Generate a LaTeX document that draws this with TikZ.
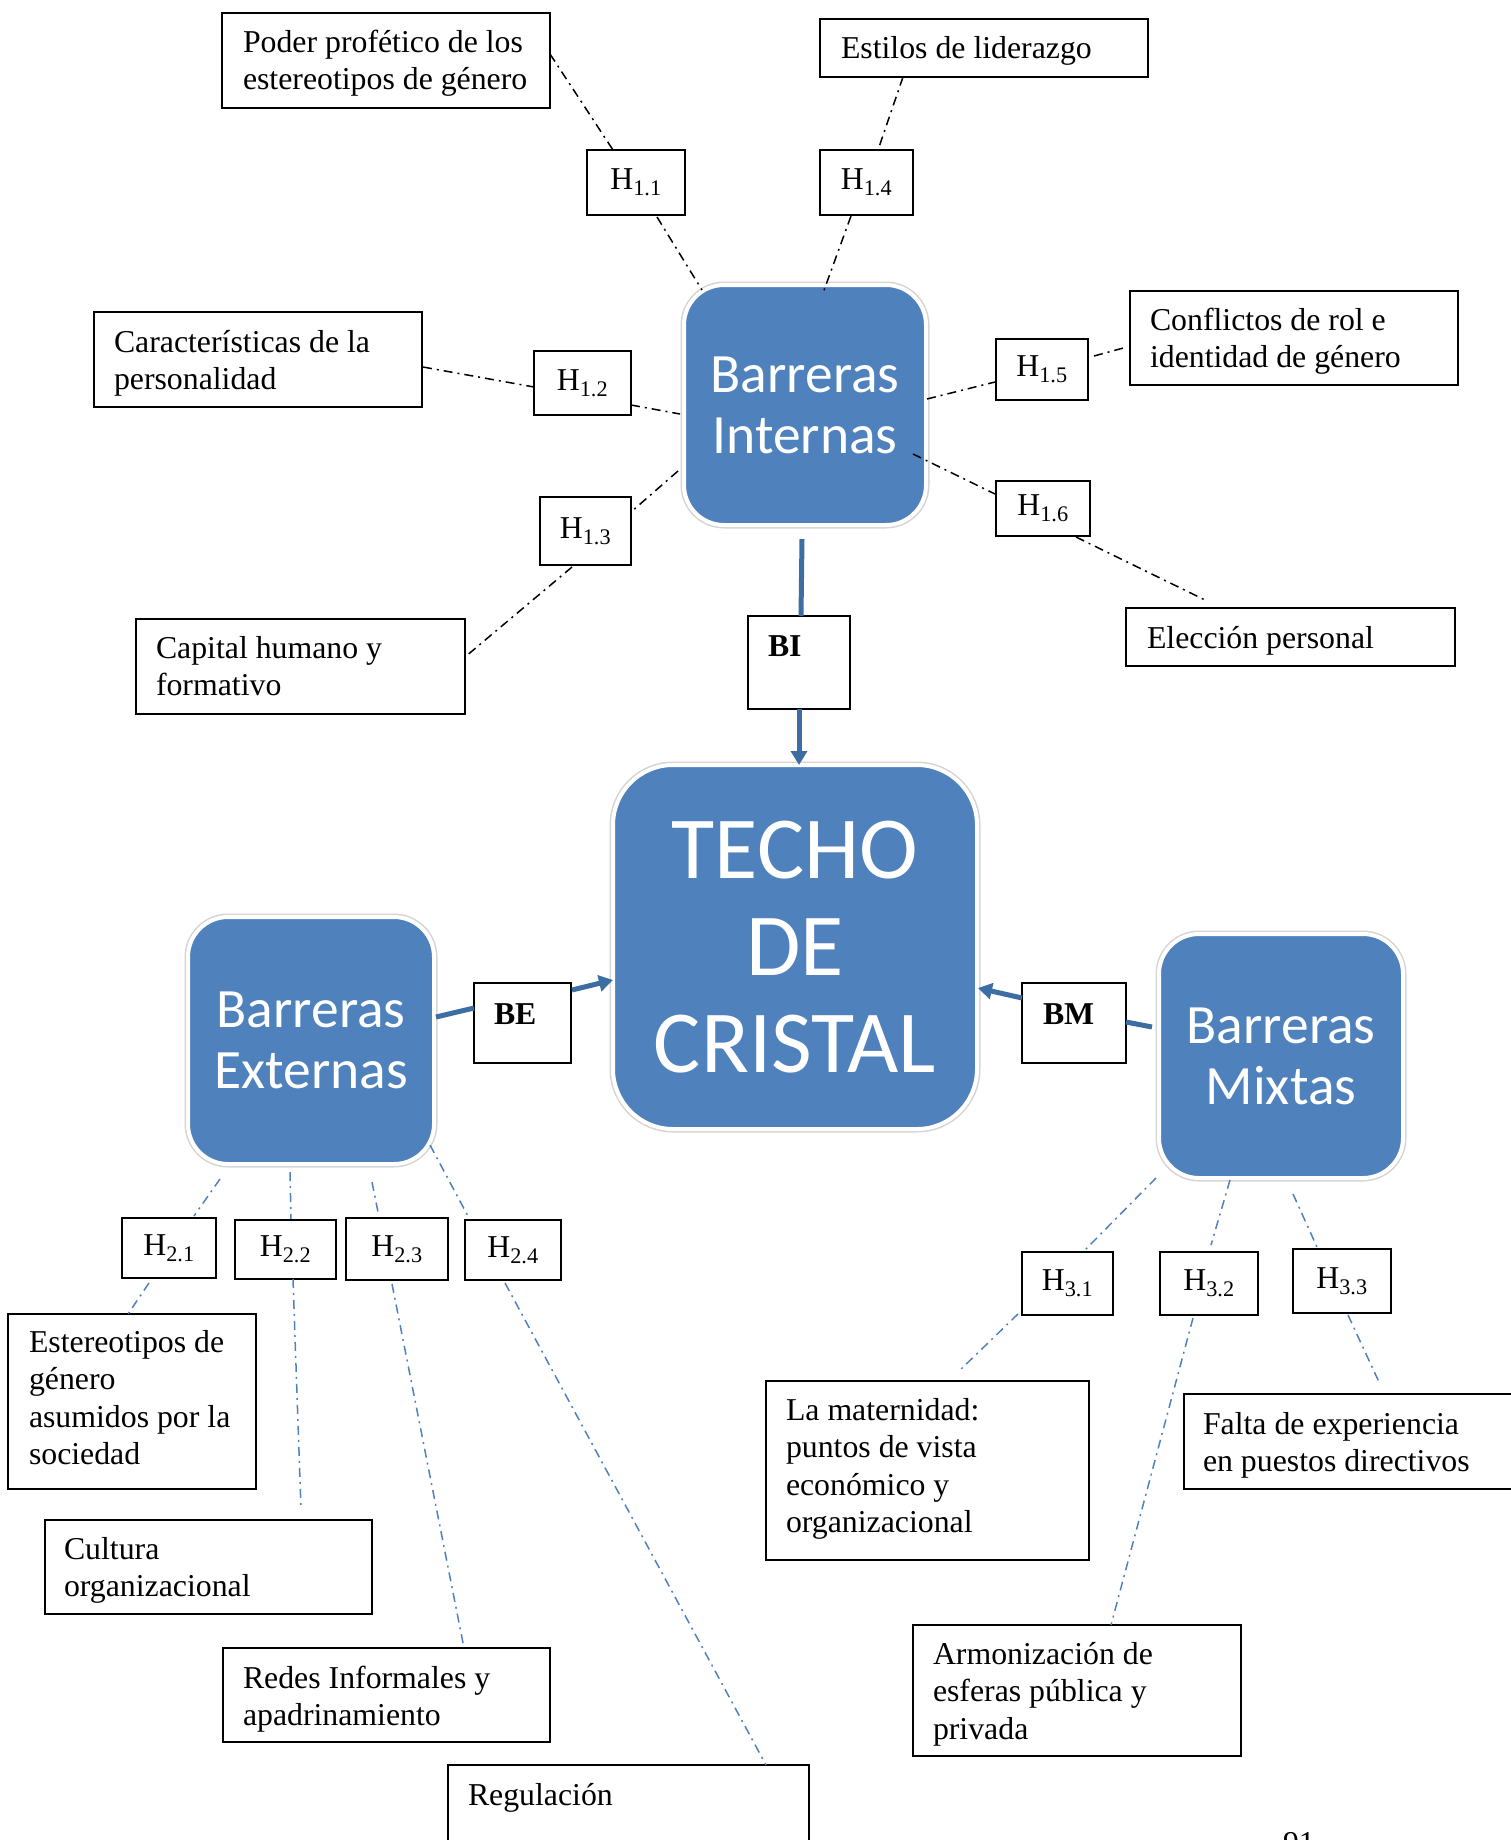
\documentclass[tikz,border=0pt]{standalone}
\usepackage{fontspec}
\setmainfont{Liberation Serif}
\newfontfamily\hubfont{Carlito}
\usetikzlibrary{arrows.meta}
\definecolor{hubblue}{HTML}{4F81BD}
\definecolor{flowblue}{HTML}{3C6DA3}
\definecolor{rimgray}{HTML}{D4D4D4}
\begin{document}
\begin{tikzpicture}[x=1pt,y=-1pt,
  every node/.style={inner sep=0pt,outer sep=0pt},
  hub/.style={anchor=north west,rounded corners=40pt,fill=hubblue,draw=white,line width=4pt,
    preaction={draw=rimgray,line width=7pt},text=white,align=center,
    font=\hubfont\fontsize{55.5}{61}\selectfont},
  frame/.style={anchor=north west,draw=black,line width=2pt},
  hyp/.style={frame,font=\fontsize{31.8}{37.5}\selectfont},
  % multi-line text blocks are placed by the baseline of their last line
  body/.style={anchor=base west,align=left,font=\fontsize{31.8}{37.5}\selectfont},
  tagtext/.style={anchor=base west,font=\fontsize{31.8}{37.5}\selectfont\bfseries},
  inner link/.style={draw=black,line width=1.5pt,dash pattern=on 9pt off 5pt on 2pt off 5pt},
  outer link/.style={draw=hubblue,line width=1.5pt,dash pattern=on 9pt off 5pt on 2pt off 5pt},
  flow/.style={draw=flowblue,line width=5pt},
  flow tip/.style={flow,-{Triangle[length=14pt,width=16pt]}},
]
\useasboundingbox (0,0) rectangle (1511,1840);
\clip (0,0) rectangle (1511,1840);

% ---------- central and group boxes ----------
\node[hub,minimum width=242pt,minimum height=240pt] (bint) at (684,285) {Barreras\\Internas};
\node[hub,rounded corners=60pt,minimum width=364pt,minimum height=364pt,
      font=\hubfont\fontsize{88.5}{97}\selectfont] (techo) at (613,765) {TECHO\\DE\\CRISTAL};
\node[hub,minimum width=246pt,minimum height=247pt] (bext) at (188,917) {Barreras\\Externas};
\node[hub,minimum width=244pt,minimum height=244pt] (bmix) at (1159,934) {Barreras\\Mixtas};

% ---------- group tags ----------
\node[frame,minimum width=102pt,minimum height=93pt] (bi) at (748,616) {};
\node[tagtext] (bi-t) at ([shift={(20,40)}]bi.north west) {BI};
\node[frame,minimum width=97pt,minimum height=80pt] (be) at (474,983) {};
\node[tagtext] (be-t) at ([shift={(20,41)}]be.north west) {BE};
\node[frame,minimum width=104pt,minimum height=80pt] (bm) at (1022,983) {};
\node[tagtext] (bm-t) at ([shift={(21,41)}]bm.north west) {BM};

% ---------- internal barriers ----------
\node[frame,minimum width=328pt,minimum height=95pt] (poder) at (222,13) {};
\node[body] (poder-t) at (243,89.5) {Poder profético de los\\estereotipos de género};
\node[frame,minimum width=328pt,minimum height=58pt] (estilos) at (820,19) {};
\node[body] (estilos-t) at (841,58) {Estilos de liderazgo};
\node[frame,minimum width=328pt,minimum height=95pt] (caract) at (94,312) {};
\node[body] (caract-t) at (114,389.5) {Características de la\\personalidad};
\node[frame,minimum width=329pt,minimum height=95pt] (capital) at (136,619) {};
\node[body] (capital-t) at (156,695.5) {Capital humano y\\formativo};
\node[frame,minimum width=328pt,minimum height=94pt] (conflictos) at (1130,291) {};
\node[body] (conflictos-t) at (1150,367.5) {Conflictos de rol e\\identidad de género};
\node[frame,minimum width=329pt,minimum height=58pt] (eleccion) at (1126,608) {};
\node[body] (eleccion-t) at (1147,648) {Elección personal};

\node[hyp,minimum width=98pt,minimum height=65pt] (h11) at (587,150) {H\textsubscript{1.1}};
\node[hyp,minimum width=93pt,minimum height=65pt] (h14) at (820,150) {H\textsubscript{1.4}};
\node[hyp,minimum width=97pt,minimum height=64pt] (h12) at (534,351) {H\textsubscript{1.2}};
\node[hyp,minimum width=91pt,minimum height=68pt] (h13) at (540,497) {H\textsubscript{1.3}};
\node[hyp,minimum width=92pt,minimum height=61pt] (h15) at (996,339) {H\textsubscript{1.5}};
\node[hyp,minimum width=94pt,minimum height=55pt] (h16) at (996,481) {H\textsubscript{1.6}};

% ---------- external barriers ----------
\node[hyp,minimum width=94pt,minimum height=60pt] (h21) at (122,1218) {H\textsubscript{2.1}};
\node[hyp,minimum width=101pt,minimum height=59pt] (h22) at (235,1220) {H\textsubscript{2.2}};
\node[hyp,minimum width=102pt,minimum height=62pt] (h23) at (346,1218) {H\textsubscript{2.3}};
\node[hyp,minimum width=96pt,minimum height=60pt] (h24) at (465,1220) {H\textsubscript{2.4}};

\node[frame,minimum width=248pt,minimum height=175pt] (estereo) at (8,1314) {};
\node[body] (estereo-t) at (29,1464.5) {Estereotipos de\\género\\asumidos por la\\sociedad};
\node[frame,minimum width=327pt,minimum height=94pt] (cultura) at (45,1520) {};
\node[body] (cultura-t) at (64,1596.5) {Cultura\\organizacional};
\node[frame,minimum width=327pt,minimum height=94pt] (redes) at (223,1648) {};
\node[body] (redes-t) at (243,1725.5) {Redes Informales y\\apadrinamiento};
\node[frame,minimum width=361pt,minimum height=110pt] (regul) at (448,1765) {};
\node[body] (regul-t) at (468,1805) {Regulación};

% ---------- mixed barriers ----------
\node[hyp,minimum width=91pt,minimum height=63pt] (h31) at (1022,1252) {H\textsubscript{3.1}};
\node[hyp,minimum width=98pt,minimum height=63pt] (h32) at (1160,1252) {H\textsubscript{3.2}};
\node[hyp,minimum width=98pt,minimum height=64pt] (h33) at (1293,1249) {H\textsubscript{3.3}};

\node[frame,minimum width=323pt,minimum height=179pt] (matern) at (766,1381) {};
\node[body] (matern-t) at (786,1532.5) {La maternidad:\\puntos de vista\\económico y\\organizacional};
\node[frame,minimum width=345pt,minimum height=95pt] (falta) at (1184,1394) {};
\node[body] (falta-t) at (1203,1471.5) {Falta de experiencia\\en puestos directivos};
\node[frame,minimum width=328pt,minimum height=131pt] (armon) at (913,1625) {};
\node[body] (armon-t) at (933,1739) {Armonización de\\esferas pública y\\privada};

\node[body] (folio) at (1283,1853) {91};

% ---------- flows into the central box ----------
\draw[flow] ([shift={(118,14)}]bint.south west) -- ([shift={(53,0)}]bi.north west);
\draw[flow tip] ([shift={(51,0)}]bi.south west) -- ([shift={(186,0)}]techo.north west);
\draw[flow] ([shift={(2,100)}]bext.north east) -- ([shift={(0,25)}]be.north west);
\draw[flow tip] ([shift={(1,7)}]be.north east) -- ([shift={(0,215)}]techo.north west);
\draw[flow] ([shift={(-7,93)}]bmix.north west) -- ([shift={(0,39)}]bm.north east);
\draw[flow tip] ([shift={(0,15)}]bm.north west) -- ([shift={(1,223)}]techo.north east);

% ---------- internal hypotheses ----------
\draw[inner link] ([shift={(0,41)}]poder.north east) -- ([shift={(26,0)}]h11.north west);
\draw[inner link] ([shift={(70,2)}]h11.south west) -- ([shift={(18,5)}]bint.north west);
\draw[inner link] ([shift={(83,0)}]estilos.south west) -- ([shift={(58,0)}]h14.north west);
\draw[inner link] ([shift={(31,1)}]h14.south west) -- ([shift={(139,8)}]bint.north west);
\draw[inner link] ([shift={(1,55)}]caract.north east) -- ([shift={(0,36)}]h12.north west);
\draw[inner link] ([shift={(0,54)}]h12.north east) -- ([shift={(-4,129)}]bint.north west);
\draw[inner link] ([shift={(-6,186)}]bint.north west) -- ([shift={(0,15)}]h13.north east);
\draw[inner link] ([shift={(32,2)}]h13.south west) -- ([shift={(0,38)}]capital.north east);
\draw[inner link] ([shift={(1,114)}]bint.north east) -- ([shift={(-1,43)}]h15.north west);
\draw[inner link] ([shift={(6,17)}]h15.north east) -- ([shift={(-3,56)}]conflictos.north west);
\draw[inner link] ([shift={(-13,169)}]bint.north east) -- ([shift={(-1,13)}]h16.north west);
\draw[inner link] ([shift={(80,1)}]h16.south west) -- ([shift={(79,-8)}]eleccion.north west);

% ---------- external hypotheses ----------
\draw[outer link] ([shift={(32,15)}]bext.south west) -- ([shift={(72,-2)}]h21.north west);
\draw[outer link] ([shift={(102,8)}]bext.south west) -- ([shift={(56,-1)}]h22.north west);
\draw[outer link] ([shift={(184,18)}]bext.south west) -- ([shift={(32,-6)}]h23.north west);
\draw[outer link] ([shift={(-4,-19)}]bext.south east) -- ([shift={(4,-2)}]h24.north west);
\draw[outer link] ([shift={(27,5)}]h21.south west) -- ([shift={(120,0)}]estereo.north west);
\draw[outer link] ([shift={(58,0)}]h22.south west) -- ([shift={(256,-11)}]cultura.north west);
\draw[outer link] ([shift={(46,4)}]h23.south west) -- ([shift={(241,0)}]redes.north west);
\draw[outer link] ([shift={(40,3)}]h24.south west) -- ([shift={(318,0)}]regul.north west);

% ---------- mixed hypotheses ----------
\draw[outer link] ([shift={(-3,0)}]bmix.south west) -- ([shift={(62,-1)}]h31.north west);
\draw[outer link] ([shift={(71,2)}]bmix.south west) -- ([shift={(51,-7)}]h32.north west);
\draw[outer link] ([shift={(134,16)}]bmix.south west) -- ([shift={(24,-2)}]h33.north west);
\draw[outer link] ([shift={(-4,-1)}]h31.south west) -- ([shift={(193,-10)}]matern.north west);
\draw[outer link] ([shift={(33,3)}]h32.south west) -- ([shift={(198,0)}]armon.north west);
\draw[outer link] ([shift={(55,2)}]h33.south west) -- ([shift={(195,-12)}]falta.north west);
\end{tikzpicture}
\end{document}
